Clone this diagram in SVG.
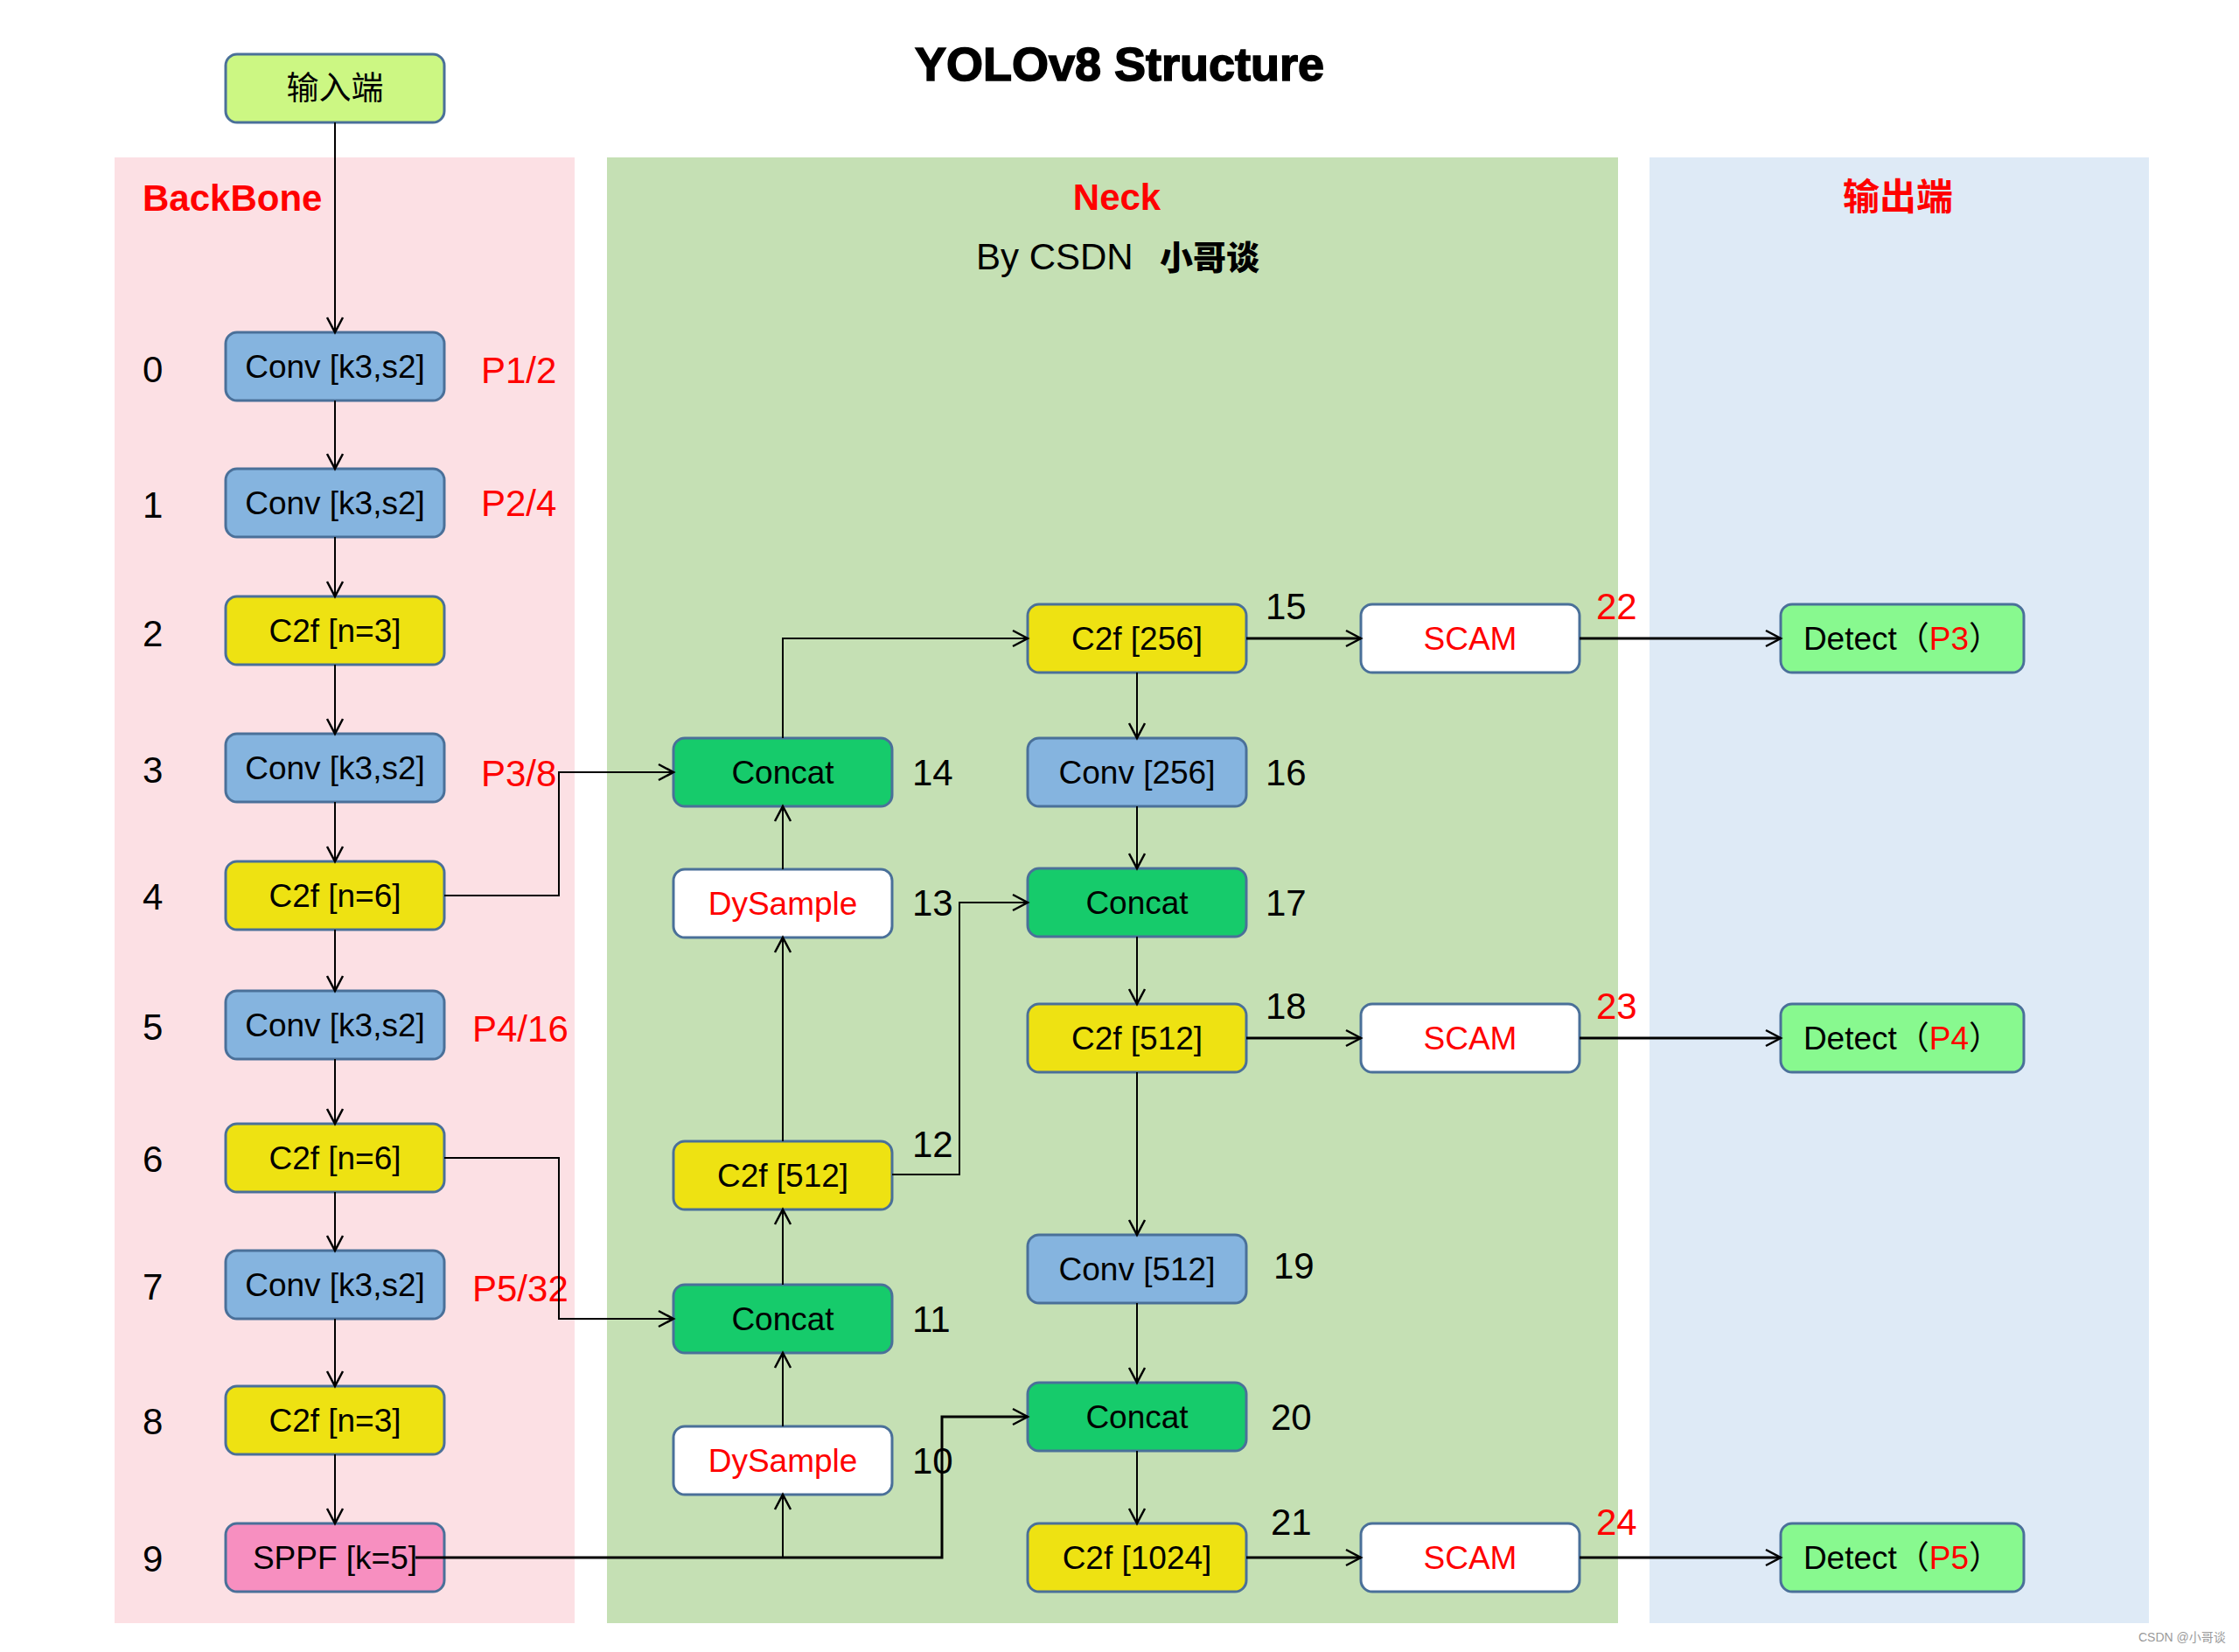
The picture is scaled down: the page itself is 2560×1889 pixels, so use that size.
<svg xmlns="http://www.w3.org/2000/svg" width="2560" height="1889" viewBox="0 0 2560 1889">
<defs>
<style>
text{font-family:"Liberation Sans",Arial,"Noto Sans CJK SC",sans-serif;}
.box{stroke:#4A7099;stroke-width:3;}
.conv{fill:#85B4DF;}
.c2f{fill:#EEE212;}
.concat{fill:#16CB6B;}
.white{fill:#FFFFFF;}
.input{fill:#CCF783;}
.sppf{fill:#F78FC0;}
.detect{fill:#88F98F;}
.lbl{font-size:37px;text-anchor:middle;fill:#000;}
.red{fill:#FF0000;}
.num{font-size:42px;fill:#000;}
.rnum{font-size:42px;fill:#FF0000;}
.conn path{fill:none;stroke:#000;stroke-width:2;}
.conn path.thick{stroke-width:3;}
</style>
<marker id="arr" viewBox="-20 -12 24 24" refX="0" refY="0" markerWidth="24" markerHeight="24" markerUnits="userSpaceOnUse" orient="auto">
<path d="M-17,-9 L0,0 L-17,9" fill="none" stroke="#000" stroke-width="2.5"/>
</marker>
</defs>
<rect width="2560" height="1889" fill="#FFFFFF"/>
<!-- panels -->
<rect x="131" y="180" width="526" height="1676" fill="#FCE0E4"/>
<rect x="694" y="180" width="1156" height="1676" fill="#C5E0B4"/>
<rect x="1886" y="180" width="571" height="1676" fill="#DEEAF6"/>
<text x="1280" y="92" font-size="54" font-weight="bold" text-anchor="middle" fill="#000" stroke="#000" stroke-width="1.6">YOLOv8 Structure</text>
<text x="163" y="241" font-size="42" font-weight="bold" fill="#FF0000">BackBone</text>
<text x="1277" y="240" font-size="42" font-weight="bold" text-anchor="middle" fill="#FF0000">Neck</text>
<text x="2170" y="240" font-size="42" font-weight="bold" text-anchor="middle" fill="#FF0000" style="font-family:'Noto Sans CJK SC',sans-serif">输出端</text>
<text x="1116" y="308" font-size="42" fill="#000">By CSDN</text>
<text x="1326" y="308" font-size="38" font-weight="900" fill="#000" style="font-family:'Noto Sans CJK SC',sans-serif">小哥谈</text>
<!-- index labels -->
<g class="num">
<text x="163" y="437" class="num">0</text>
<text x="163" y="592" class="num">1</text>
<text x="163" y="739" class="num">2</text>
<text x="163" y="895" class="num">3</text>
<text x="163" y="1040" class="num">4</text>
<text x="163" y="1189" class="num">5</text>
<text x="163" y="1340" class="num">6</text>
<text x="163" y="1486" class="num">7</text>
<text x="163" y="1640" class="num">8</text>
<text x="163" y="1797" class="num">9</text>
</g>
<g>
<text x="550" y="438" class="rnum">P1/2</text>
<text x="550" y="590" class="rnum">P2/4</text>
<text x="550" y="899" class="rnum">P3/8</text>
<text x="540" y="1191" class="rnum">P4/16</text>
<text x="540" y="1488" class="rnum">P5/32</text>
</g>
<g>
<text x="1043" y="898" class="num">14</text>
<text x="1043" y="1047" class="num">13</text>
<text x="1043" y="1323" class="num">12</text>
<text x="1043" y="1523" class="num">11</text>
<text x="1043" y="1685" class="num">10</text>
<text x="1447" y="708" class="num">15</text>
<text x="1447" y="898" class="num">16</text>
<text x="1447" y="1047" class="num">17</text>
<text x="1447" y="1165" class="num">18</text>
<text x="1456" y="1462" class="num">19</text>
<text x="1453" y="1635" class="num">20</text>
<text x="1453" y="1755" class="num">21</text>
<text x="1825" y="708" class="rnum">22</text>
<text x="1825" y="1165" class="rnum">23</text>
<text x="1825" y="1755" class="rnum">24</text>
</g>
<!-- nodes -->
<g id="input"><rect class="box input" x="258" y="62" width="250" height="78" rx="13"/><text class="lbl" x="383" y="114" style="font-family:'Noto Sans CJK SC',sans-serif">输入端</text></g>
<g id="n0"><rect class="box conv" x="258" y="380" width="250" height="78" rx="13"/><text class="lbl" x="383" y="432">Conv [k3,s2]</text></g>
<g id="n1"><rect class="box conv" x="258" y="536" width="250" height="78" rx="13"/><text class="lbl" x="383" y="588">Conv [k3,s2]</text></g>
<g id="n2"><rect class="box c2f" x="258" y="682" width="250" height="78" rx="13"/><text class="lbl" x="383" y="734">C2f [n=3]</text></g>
<g id="n3"><rect class="box conv" x="258" y="839" width="250" height="78" rx="13"/><text class="lbl" x="383" y="891">Conv [k3,s2]</text></g>
<g id="n4"><rect class="box c2f" x="258" y="985" width="250" height="78" rx="13"/><text class="lbl" x="383" y="1037">C2f [n=6]</text></g>
<g id="n5"><rect class="box conv" x="258" y="1133" width="250" height="78" rx="13"/><text class="lbl" x="383" y="1185">Conv [k3,s2]</text></g>
<g id="n6"><rect class="box c2f" x="258" y="1285" width="250" height="78" rx="13"/><text class="lbl" x="383" y="1337">C2f [n=6]</text></g>
<g id="n7"><rect class="box conv" x="258" y="1430" width="250" height="78" rx="13"/><text class="lbl" x="383" y="1482">Conv [k3,s2]</text></g>
<g id="n8"><rect class="box c2f" x="258" y="1585" width="250" height="78" rx="13"/><text class="lbl" x="383" y="1637">C2f [n=3]</text></g>
<g id="n9"><rect class="box sppf" x="258" y="1742" width="250" height="78" rx="13"/><text class="lbl" x="383" y="1794">SPPF [k=5]</text></g>
<g id="n10"><rect class="box white" x="770" y="1631" width="250" height="78" rx="13"/><text class="lbl red" x="895" y="1683">DySample</text></g>
<g id="n11"><rect class="box concat" x="770" y="1469" width="250" height="78" rx="13"/><text class="lbl" x="895" y="1521">Concat</text></g>
<g id="n12"><rect class="box c2f" x="770" y="1305" width="250" height="78" rx="13"/><text class="lbl" x="895" y="1357">C2f [512]</text></g>
<g id="n13"><rect class="box white" x="770" y="994" width="250" height="78" rx="13"/><text class="lbl red" x="895" y="1046">DySample</text></g>
<g id="n14"><rect class="box concat" x="770" y="844" width="250" height="78" rx="13"/><text class="lbl" x="895" y="896">Concat</text></g>
<g id="n15"><rect class="box c2f" x="1175" y="691" width="250" height="78" rx="13"/><text class="lbl" x="1300" y="743">C2f [256]</text></g>
<g id="n16"><rect class="box conv" x="1175" y="844" width="250" height="78" rx="13"/><text class="lbl" x="1300" y="896">Conv [256]</text></g>
<g id="n17"><rect class="box concat" x="1175" y="993" width="250" height="78" rx="13"/><text class="lbl" x="1300" y="1045">Concat</text></g>
<g id="n18"><rect class="box c2f" x="1175" y="1148" width="250" height="78" rx="13"/><text class="lbl" x="1300" y="1200">C2f [512]</text></g>
<g id="n19"><rect class="box conv" x="1175" y="1412" width="250" height="78" rx="13"/><text class="lbl" x="1300" y="1464">Conv [512]</text></g>
<g id="n20"><rect class="box concat" x="1175" y="1581" width="250" height="78" rx="13"/><text class="lbl" x="1300" y="1633">Concat</text></g>
<g id="n21"><rect class="box c2f" x="1175" y="1742" width="250" height="78" rx="13"/><text class="lbl" x="1300" y="1794">C2f [1024]</text></g>
<g id="n22"><rect class="box white" x="1556" y="691" width="250" height="78" rx="13"/><text class="lbl red" x="1681" y="743">SCAM</text></g>
<g id="n23"><rect class="box white" x="1556" y="1148" width="250" height="78" rx="13"/><text class="lbl red" x="1681" y="1200">SCAM</text></g>
<g id="n24"><rect class="box white" x="1556" y="1742" width="250" height="78" rx="13"/><text class="lbl red" x="1681" y="1794">SCAM</text></g>
<g id="d3"><rect class="box detect" x="2036" y="691" width="278" height="78" rx="13"/><text class="lbl" x="2175" y="743">Detect<tspan style="font-family:'Noto Sans CJK SC',sans-serif">（</tspan><tspan fill="#FF0000">P3</tspan><tspan style="font-family:'Noto Sans CJK SC',sans-serif">）</tspan></text></g>
<g id="d4"><rect class="box detect" x="2036" y="1148" width="278" height="78" rx="13"/><text class="lbl" x="2175" y="1200">Detect<tspan style="font-family:'Noto Sans CJK SC',sans-serif">（</tspan><tspan fill="#FF0000">P4</tspan><tspan style="font-family:'Noto Sans CJK SC',sans-serif">）</tspan></text></g>
<g id="d5"><rect class="box detect" x="2036" y="1742" width="278" height="78" rx="13"/><text class="lbl" x="2175" y="1794">Detect<tspan style="font-family:'Noto Sans CJK SC',sans-serif">（</tspan><tspan fill="#FF0000">P5</tspan><tspan style="font-family:'Noto Sans CJK SC',sans-serif">）</tspan></text></g>
<!-- connectors -->
<g class="conn" id="connectors">
<path d="M383,140 V380" marker-end="url(#arr)"/>
<path d="M383,458 V536" marker-end="url(#arr)"/>
<path d="M383,614 V682" marker-end="url(#arr)"/>
<path d="M383,760 V839" marker-end="url(#arr)"/>
<path d="M383,917 V985" marker-end="url(#arr)"/>
<path d="M383,1063 V1133" marker-end="url(#arr)"/>
<path d="M383,1211 V1285" marker-end="url(#arr)"/>
<path d="M383,1363 V1430" marker-end="url(#arr)"/>
<path d="M383,1508 V1585" marker-end="url(#arr)"/>
<path d="M383,1663 V1742" marker-end="url(#arr)"/>
<path d="M508,1024 H639 V883 H770" marker-end="url(#arr)"/>
<path d="M508,1324 H639 V1508 H770" marker-end="url(#arr)"/>
<path class="thick" d="M475,1781 H1077 V1620 H1175" marker-end="url(#arr)"/>
<path d="M895,1781 V1709" marker-end="url(#arr)"/>
<path d="M895,1631 V1547" marker-end="url(#arr)"/>
<path d="M895,1469 V1383" marker-end="url(#arr)"/>
<path d="M895,1305 V1072" marker-end="url(#arr)"/>
<path d="M1020,1343 H1097 V1032 H1175" marker-end="url(#arr)"/>
<path d="M895,994 V922" marker-end="url(#arr)"/>
<path d="M895,844 V730 H1175" marker-end="url(#arr)"/>
<path d="M1300,769 V844" marker-end="url(#arr)"/>
<path d="M1300,922 V993" marker-end="url(#arr)"/>
<path d="M1300,1071 V1148" marker-end="url(#arr)"/>
<path d="M1300,1226 V1412" marker-end="url(#arr)"/>
<path d="M1300,1490 V1581" marker-end="url(#arr)"/>
<path d="M1300,1659 V1742" marker-end="url(#arr)"/>
<path class="thick" d="M1425,730 H1556" marker-end="url(#arr)"/>
<path class="thick" d="M1806,730 H2036" marker-end="url(#arr)"/>
<path class="thick" d="M1425,1187 H1556" marker-end="url(#arr)"/>
<path class="thick" d="M1806,1187 H2036" marker-end="url(#arr)"/>
<path class="thick" d="M1425,1781 H1556" marker-end="url(#arr)"/>
<path class="thick" d="M1806,1781 H2036" marker-end="url(#arr)"/>
</g>
<text x="2445" y="1877" font-size="14" fill="#9A9A9A">CSDN @小哥谈</text>
</svg>
